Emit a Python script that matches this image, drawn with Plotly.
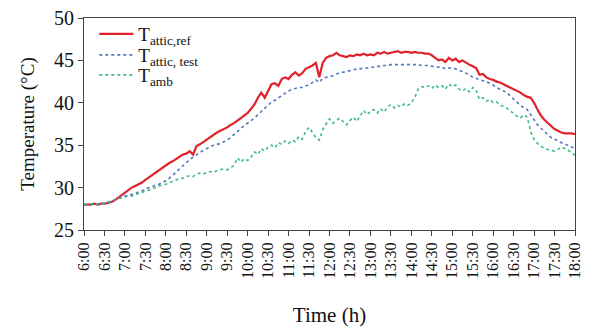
import plotly.graph_objects as go

# time axis: 6:00 to 18:00 every 5 minutes (hours)
time_h = [6 + i * 5 / 60 for i in range(145)]

tick_vals = [6 + 0.5 * i for i in range(25)]
tick_text = ["6:00", "6:30", "7:00", "7:30", "8:00", "8:30", "9:00", "9:30",
             "10:00", "10:30", "11:00", "11:30", "12:00", "12:30", "13:00", "13:30",
             "14:00", "14:30", "15:00", "15:30", "16:00", "16:30", "17:00", "17:30", "18:00"]

t_attic_ref = [
    28.0, 28.0, 28.0, 28.1, 28.0, 28.1, 28.1, 28.2, 28.3,            # 6:00-6:40
    28.5, 28.8, 29.2, 29.5, 29.8, 30.0, 30.2, 30.4, 30.6, 30.9,      # 6:45-7:30
    31.2, 31.5, 31.8, 32.0, 32.3, 32.6, 32.9, 33.1, 33.4, 33.7,      # 7:35-8:20
    33.9, 34.0, 34.3, 33.9, 34.9, 35.1, 35.4, 35.7, 36.0, 36.2,      # 8:25-9:10
    36.5, 36.7, 36.9, 37.1, 37.4, 37.6, 37.9, 38.2, 38.4, 38.8,      # 9:15-10:00
    39.3, 39.8, 40.6, 41.2, 40.6, 41.5, 42.2, 42.3, 42.0, 42.8,      # 10:05-10:50
    43.0, 42.8, 43.3, 43.6, 43.2, 43.5, 44.0, 44.2, 44.4, 44.7,      # 10:55-11:40
    43.0, 44.7, 45.3, 45.5, 45.6, 45.9, 45.6, 45.5, 45.4, 45.6,      # 11:45-12:30
    45.5, 45.7, 45.6, 45.8, 45.6, 45.7, 45.6, 45.9, 45.8, 46.0,      # 12:35-13:20
    45.8, 45.9, 46.0, 46.1, 45.9, 46.0, 46.0, 45.9, 46.0, 45.9,      # 13:25-14:10
    45.9, 45.8, 45.8, 45.6, 45.3, 45.0, 45.1, 44.8, 45.3, 45.0,      # 14:15-15:00
    45.2, 44.8, 45.0, 44.7, 44.5, 44.3, 44.1, 43.3, 43.4, 43.0,      # 15:05-15:50
    42.8, 42.7, 42.5, 42.4, 42.2, 42.0, 41.8, 41.6, 41.4, 41.2,      # 15:55-16:40
    40.9, 40.7, 40.6, 40.0, 39.2, 38.5, 38.0, 37.6, 37.2, 36.9,      # 16:45-17:30
    36.7, 36.5, 36.4, 36.4, 36.4, 36.3,                              # 17:35-18:00
]

t_attic_test = [
    28.0, 28.0, 28.0, 28.1, 28.0, 28.1, 28.1, 28.2, 28.3,            # 6:00-6:40
    28.5, 28.7, 28.9, 29.0, 29.1, 29.2, 29.3, 29.5, 29.6, 29.8,      # 6:45-7:30
    30.0, 30.1, 30.3, 30.4, 30.6, 30.8, 31.1, 31.4, 31.8, 32.2,      # 7:35-8:20
    32.6, 33.0, 33.3, 33.6, 33.9, 34.1, 34.4, 34.6, 34.8, 35.0,      # 8:25-9:10
    35.1, 35.2, 35.4, 35.6, 35.9, 36.2, 36.6, 37.0, 37.3, 37.5,      # 9:15-10:00
    37.8, 38.2, 38.6, 39.0, 39.4, 39.8, 40.1, 40.3, 40.6, 40.9,      # 10:05-10:50
    41.2, 41.4, 41.6, 41.7, 41.8, 41.8, 42.0, 42.1, 42.4, 42.7,      # 10:55-11:40
    42.4, 42.9, 43.0, 43.1, 43.2, 43.4, 43.5, 43.6, 43.7, 43.8,      # 11:45-12:30
    43.9, 44.0, 44.0, 44.1, 44.1, 44.2, 44.2, 44.3, 44.3, 44.4,      # 12:35-13:20
    44.4, 44.5, 44.5, 44.5, 44.5, 44.5, 44.5, 44.5, 44.5, 44.5,      # 13:25-14:10
    44.4, 44.4, 44.4, 44.3, 44.3, 44.2, 44.2, 44.0, 44.1, 44.1,      # 14:15-15:00
    44.0, 43.8, 43.7, 43.5, 43.3, 43.0, 42.9, 42.7, 42.6, 42.5,      # 15:05-15:50
    42.3, 42.1, 41.8, 41.6, 41.4, 41.2, 40.8, 40.4, 40.0, 39.7,      # 15:55-16:40
    39.4, 39.2, 38.6, 38.0, 37.4, 37.0, 36.6, 36.2, 35.9, 35.7,      # 16:45-17:30
    35.5, 35.3, 35.1, 35.0, 34.8, 34.6,                              # 17:35-18:00
]

t_amb = [
    28.0, 28.0, 28.1, 28.0, 28.1, 28.1, 28.2, 28.3, 28.4,            # 6:00-6:40
    28.6, 28.7, 28.8, 28.9, 29.0, 29.0, 29.2, 29.3, 29.4, 29.6,      # 6:45-7:30
    29.7, 29.9, 30.0, 30.2, 30.3, 30.4, 30.6, 30.7, 30.9, 31.1,      # 7:35-8:20
    31.1, 31.3, 31.4, 31.3, 31.6, 31.7, 31.6, 31.8, 31.9, 31.8,      # 8:25-9:10
    32.0, 32.1, 32.2, 32.1, 32.4, 32.6, 33.5, 33.0, 33.4, 33.2,      # 9:15-10:00
    33.6, 34.2, 33.9, 34.6, 34.3, 34.8, 35.0, 34.7, 35.3, 35.1,      # 10:05-10:50
    35.5, 35.2, 35.6, 35.4, 36.0, 35.7, 36.6, 37.1, 36.5, 35.9,      # 10:55-11:40
    35.6, 36.8, 37.5, 38.1, 37.6, 37.9, 38.2, 37.8, 37.4, 37.9,      # 11:45-12:30
    38.3, 37.8, 38.5, 39.1, 38.6, 39.0, 39.2, 38.8, 39.3, 38.9,      # 12:35-13:20
    39.5, 39.8, 39.4, 39.7, 39.5, 39.9, 39.7, 40.0, 40.6, 41.6,      # 13:25-14:10
    41.9, 41.8, 42.0, 41.7, 42.1, 41.8, 42.0, 41.6, 42.2, 41.9,      # 14:15-15:00
    42.1, 41.6, 41.4, 41.7, 41.3, 41.8, 41.5, 40.4, 40.6, 40.2,      # 15:05-15:50
    40.4, 40.0, 40.1, 39.7, 39.6, 39.4, 39.0, 38.8, 38.4, 38.2,      # 15:55-16:40
    38.6, 38.3, 36.6, 35.7, 35.2, 34.9, 34.6, 34.5, 34.4, 34.3,      # 16:45-17:30
    34.5, 34.8, 34.6, 34.4, 34.1, 33.8,                              # 17:35-18:00
]

y_ticks = [25, 30, 35, 40, 45, 50]

assert len(t_attic_ref) == len(time_h) == len(t_attic_test) == len(t_amb)

serif = "Liberation Serif, Times New Roman, serif"

fig = go.Figure()
fig.add_trace(go.Scatter(x=time_h, y=t_attic_ref, mode="lines",
                         name="T<sub>attic,ref</sub>", legend="legend",
                         line=dict(color="#e0222a", width=2.2)))
fig.add_trace(go.Scatter(x=time_h, y=t_attic_test, mode="lines",
                         name="T<sub>attic, test</sub>", legend="legend2",
                         line=dict(color="#5577bb", width=1.6, dash="dot")))
fig.add_trace(go.Scatter(x=time_h, y=t_amb, mode="lines",
                         name="T<sub>amb</sub>", legend="legend3",
                         line=dict(color="#3dba85", width=1.6, dash="dot")))

# The page body has an 8px margin, so the figure is drawn 8px in from the
# top-left corner; figure size and margins compensate for that.
FIG_W, FIG_H = 581, 320
# plot area in figure pixels: x 76..567, y 10..222
def leg(ypix):
    return dict(x=0.021, y=(222 - ypix) / 212, xanchor="left", yanchor="middle",
                bgcolor="rgba(0,0,0,0)", font=dict(size=19, family=serif, color="#111"),
                itemwidth=34, borderwidth=0)

fig.update_layout(
    width=FIG_W, height=FIG_H,
    margin=dict(l=76, r=14, t=10, b=98, autoexpand=False),
    paper_bgcolor="white", plot_bgcolor="white",
    font=dict(family=serif, color="#111111"),
    showlegend=True,
    legend=leg(26), legend2=leg(47), legend3=leg(67),
    xaxis=dict(range=[6, 18], tickmode="array", tickvals=tick_vals, ticktext=tick_text,
               tickangle=-90, tickfont=dict(size=16, family=serif),
               ticks="outside", ticklen=5, tickcolor="#444", showgrid=False,
               showline=True, linecolor="#444", linewidth=1.2, mirror=True, zeroline=False,
               automargin=False, ticklabeloverflow="allow",
               title=dict(text="Time (h)", font=dict(size=21, family=serif), standoff=29)),
    yaxis=dict(range=[25, 50], tickmode="array", tickvals=y_ticks,
               tickfont=dict(size=20, family=serif),
               ticks="outside", ticklen=5, tickcolor="#444", showgrid=False,
               showline=True, linecolor="#444", linewidth=1.2, mirror=True, zeroline=False,
               automargin=False, ticklabeloverflow="allow",
               title=dict(text="Temperature (°C)", font=dict(size=19, family=serif), standoff=14)),
)

fig.write_html("out.html")
